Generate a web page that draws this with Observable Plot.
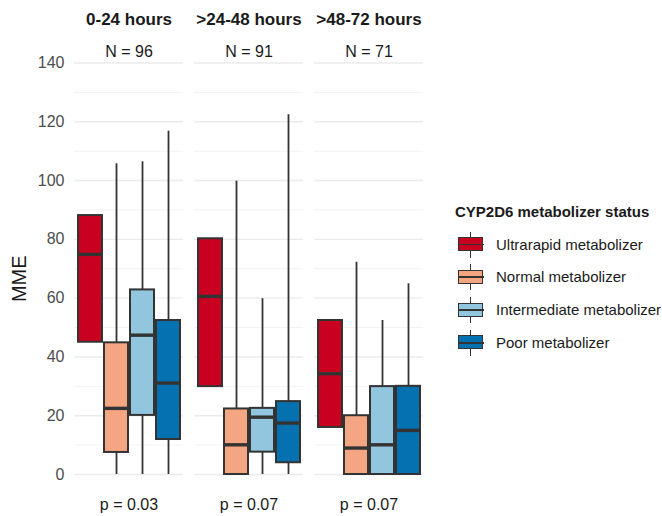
<!DOCTYPE html>
<html>
<head>
<meta charset="utf-8">
<script src="https://cdn.jsdelivr.net/npm/d3@7"></script>
<script src="https://cdn.jsdelivr.net/npm/@observablehq/plot@0.6"></script>
<style>
  body { margin: 0; background: white; font-family: "Liberation Sans", Arial, sans-serif; }
  #wrap { position: relative; width: 662px; height: 516px; overflow: hidden; }
  #legend { position: absolute; left: 444px; top: 200px; color: #1a1a1a; white-space: nowrap; }
  #legend .title { font-weight: bold; font-size: 15px; line-height: 24px; height: 24px; margin-left: 11px; margin-bottom: 4.5px; }
  #legend .row { position: relative; height: 32.8px; }
  #legend .glyph { position: absolute; left: 13.5px; top: 3px; width: 26px; height: 26px; }
  #legend .wh { position: absolute; left: 12.2px; top: 0; width: 1.6px; height: 26px; background: #333; }
  #legend .bx { position: absolute; left: 0; top: 5.5px; width: 23px; height: 12px; border: 1.5px solid #333; }
  #legend .md { position: absolute; left: 0; top: 12.1px; width: 26px; height: 1.8px; background: #333; }
  #legend .lab { position: absolute; left: 52px; top: 0; line-height: 32px; font-size: 15px; }
</style>
</head>
<body>
<div id="wrap"><div id="chart"></div><div id="legend"></div></div>
<script>
const periods = ["0-24 hours", ">24-48 hours", ">48-72 hours"];
const statuses = ["Ultrarapid metabolizer", "Normal metabolizer", "Intermediate metabolizer", "Poor metabolizer"];
const colors = ["#CA0020", "#F4A582", "#92C5DE", "#0571B0"];
const nLabels = ["N = 96", "N = 91", "N = 71"];
const pLabels = ["p = 0.03", "p = 0.07", "p = 0.07"];
// per period, per status
const lower  = [[45.0, 0, 0, 0], [29.9, 0, 0, 0], [16.0, 0, 0, 0]];
const q1     = [[45.0, 7.5, 20.1, 11.9], [29.9, 0, 7.6, 4.0], [16.0, 0, 0, 0]];
const median = [[74.9, 22.5, 47.4, 31.1], [60.6, 10.1, 19.5, 17.5], [34.3, 9.0, 10.1, 15.0]];
const q3     = [[88.1, 44.8, 62.8, 52.4], [80.2, 22.3, 22.5, 24.8], [52.4, 20.0, 29.9, 30.0]];
const upper  = [[88.1, 105.7, 106.4, 116.8], [80.2, 99.8, 59.8, 122.4], [52.4, 72.2, 52.4, 64.9]];
const yTicks = [0, 20, 40, 60, 80, 100, 120, 140];
const yMinor = [10, 30, 50, 70, 90, 110, 130];

const stats = [];
periods.forEach((p, i) => statuses.forEach((s, j) => stats.push({
  period: p, status: s, lo: lower[i][j], q1: q1[i][j], med: median[i][j], q3: q3[i][j], hi: upper[i][j]
})));
const annots = periods.map((p, i) => ({period: p, n: nLabels[i], p: pLabels[i]}));

const ink = "#333333";
const chart = Plot.plot({
  width: 662,
  height: 516,
  marginLeft: 73,
  marginRight: 238,
  marginTop: 62.5,
  marginBottom: 42,
  style: {fontFamily: "'Liberation Sans', Arial, sans-serif", fontSize: "16px", background: "white", overflow: "visible"},
  fx: {domain: periods, paddingInner: 0.091, paddingOuter: 0},
  x: {domain: statuses, paddingInner: 0.08, paddingOuter: 0.13, axis: null},
  y: {domain: [0, 140]},
  color: {domain: statuses, range: colors},
  marks: [
    Plot.ruleY(yMinor, {stroke: "#f2f2f2", strokeWidth: 1}),
    Plot.ruleY(yTicks, {stroke: "#ebebeb", strokeWidth: 1.4}),
    Plot.axisY({ticks: yTicks, tickSize: 0, tickPadding: 10, fontSize: 16, fill: "#4d4d4d", label: null}),
    Plot.axisFx({anchor: "top", tickSize: 0, tickPadding: 38, fontSize: 17, fontWeight: "bold", fill: "#1a1a1a", label: null}),
    Plot.ruleX(stats, {fx: "period", x: "status", y1: "q3", y2: "hi", stroke: ink, strokeWidth: 1.8}),
    Plot.ruleX(stats, {fx: "period", x: "status", y1: "lo", y2: "q1", stroke: ink, strokeWidth: 1.8}),
    Plot.barY(stats, {fx: "period", x: "status", y1: "q1", y2: "q3", fill: "status", stroke: ink, strokeWidth: 2}),
    Plot.tickY(stats, {fx: "period", x: "status", y: "med", stroke: ink, strokeWidth: 3.4}),
    Plot.text(annots, {fx: "period", text: "n", frameAnchor: "top", lineAnchor: "middle", dy: -11.5, fontSize: 16, fill: "#1a1a1a"}),
    Plot.text(annots, {fx: "period", text: "p", frameAnchor: "bottom", lineAnchor: "middle", dy: 30, fontSize: 16, fill: "#1a1a1a"}),
    Plot.text([annots[0]], {fx: "period", text: () => "MME", frameAnchor: "left", textAnchor: "middle", lineAnchor: "middle", rotate: -90, dx: -55, dy: 10, fontSize: 20, fill: "#1a1a1a"})
  ]
});
document.getElementById("chart").appendChild(chart);

const leg = document.getElementById("legend");
let html = '<div class="title">CYP2D6 metabolizer status</div>';
statuses.forEach((s, i) => {
  html += `<div class="row"><div class="glyph"><div class="wh"></div><div class="bx" style="background:${colors[i]}"></div><div class="md"></div></div><div class="lab">${s}</div></div>`;
});
leg.innerHTML = html;
</script>
</body>
</html>
